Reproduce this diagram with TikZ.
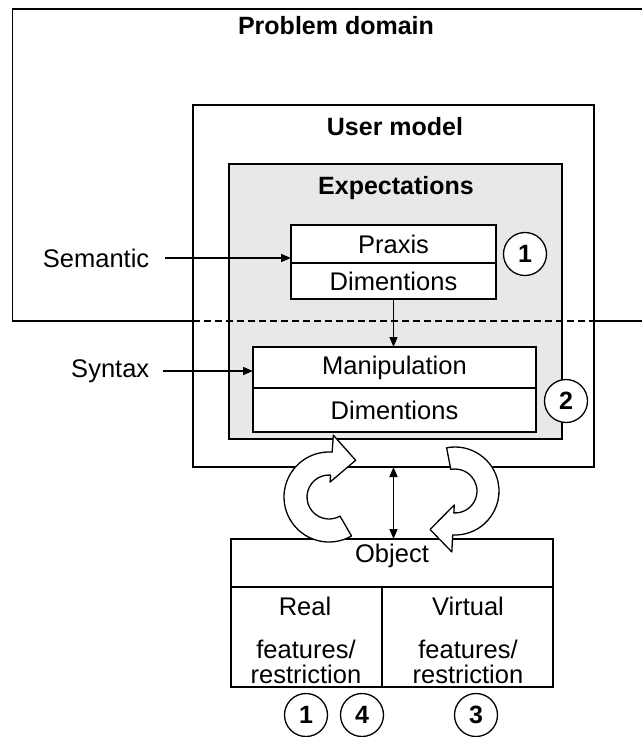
\documentclass[tikz,border=0pt]{standalone}
\usepackage{fontspec}
\setmainfont{Liberation Sans}
\usetikzlibrary{arrows.meta}
\usetikzlibrary{positioning}
\usetikzlibrary{calc}

\begin{document}
\begin{tikzpicture}[x=1pt, y=-1pt, line width=1.6pt,
    txt/.style={inner sep=0pt, font=\fontsize{25.5}{25}\selectfont, align=center},
    ttl/.style={inner sep=0pt, font=\fontsize{25}{30}\selectfont\bfseries},
    box/.style={draw, fill=white, inner sep=0pt, outer sep=0pt, font=\fontsize{25.5}{30}\selectfont},
    num/.style={draw, fill=white, circle, minimum size=43pt, inner sep=0pt, line width=1.3pt, font=\fontsize{25}{30}\selectfont\bfseries},
    tip/.style={-{Triangle[length=10pt,width=8pt]}},
    cyc/.style={draw, fill=white, line join=round, line width=1.3pt}]
    \useasboundingbox (0,0) rectangle (642,737);
    \coordinate (cut) at (0,321);
    \draw (642,9) -- (12.5,9) -- (12.5,321) -- (193,321) (594,321) -- (642,321);
    \node[box, minimum width=401pt, minimum height=362pt] (usr) at (393.5,286) {};
    \node[box, fill=black!9, minimum width=333pt, minimum height=275pt] (exp) at (395.5,301.5) {};
    \draw[dash pattern=on 7pt off 4pt] (usr.west |- cut) -- (usr.east |- cut);
    \node[ttl] (dom) at (336,26) {Problem domain};
    \node[ttl] (um) at (395,127) {User model};
    \node[ttl] (ex) at (396,188.5) {Expectations};
    \node[box, minimum width=205pt, minimum height=38pt] (prx) at (393.5,244) {Praxis};
    \node[box, minimum width=205pt, minimum height=36pt, below=0pt of prx] (dim1) {Dimentions};
    \node[box, minimum width=283pt, minimum height=41pt] (man) at (394.5,367.5) {Manipulation};
    \node[box, minimum width=283pt, minimum height=44pt, below=0pt of man] (dim2) {Dimentions};
    \node[txt, anchor=east] (sem) at (150,258) {Semantic};
    \node[txt, anchor=east] (syn) at (150,371) {Syntax};
    \draw[tip] ([xshift=15pt]sem.east) -- (sem -| prx.west);
    \draw[tip] ([xshift=13pt]syn.east) -- (syn -| man.west);
    \draw[tip] (dim1.south) -- (dim1.south |- man.north);
    \node[box, minimum width=322pt, minimum height=48pt] (obj) at (392,563) {};
    \node[box, minimum width=151pt, minimum height=100pt, anchor=north west] (real) at (obj.south west) {};
    \node[box, minimum width=171pt, minimum height=100pt, anchor=north east] (virt) at (obj.south east) {};
    \node[txt] (objt) at (392,556) {Object};
    \node[txt] (rl) at (305,606) {Real};
    \node[txt] (vt) at (468,606) {Virtual};
    \node[txt] (rlf) at (306,662) {features/\\restriction};
    \node[txt] (vtf) at (468,662) {features/\\restriction};
    \draw[{Triangle[length=10pt,width=8pt]}-{Triangle[length=10pt,width=8pt]}] (usr.south) -- (usr.south |- obj.north);
    \coordinate (lc) at (329,497);
    \coordinate (rc) at (455,491);
    \draw[cyc] ($(lc)+(60:45)$) arc[start angle=60, end angle=274, radius=45] -- ($(lc)+(274:62)$) -- ($(lc)+(274:38.5)+(24,1.7)$) -- ($(lc)+(274:15)$) -- ($(lc)+(274:22)$) arc[start angle=274, end angle=60, radius=22] -- cycle;
    \draw[cyc] ($(rc)+(259:44)$) arc[start angle=259, end angle=453, radius=44] -- ($(rc)+(453:61)$) -- ($(rc)+(453:37.5)+(-23,1)$) -- ($(rc)+(453:14)$) -- ($(rc)+(453:22)$) arc[start angle=453, end angle=259, radius=22] -- cycle;
    \foreach \x/\y/\t [count=\i] in {525/254/1, 566/401/2, 306/715/1, 362/715/4, 476/715/3}
        \node[num] (n\i) at (\x,\y) {\t};
\end{tikzpicture}
\end{document}
